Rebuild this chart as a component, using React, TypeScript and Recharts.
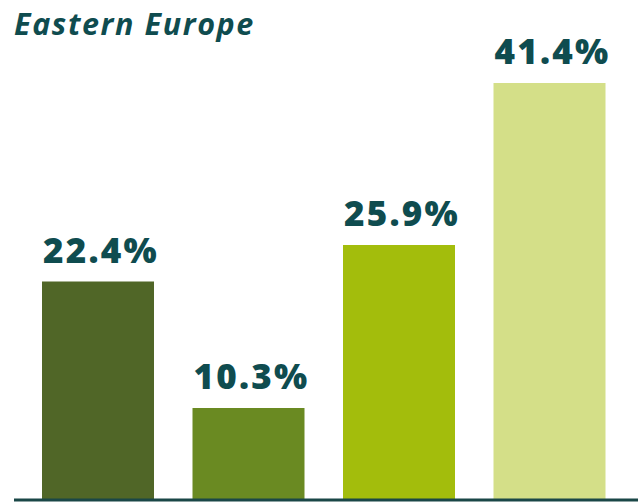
import React from "react";
import { BarChart, Bar, XAxis, YAxis, Cell, LabelList, ReferenceLine } from "recharts";

const categories = ["A", "B", "C", "D"];
const values = [22.4, 10.3, 25.9, 41.4];
const labels = ["22.4%", "10.3%", "25.9%", "41.4%"];
const colors = ["#506627", "#6a8a22", "#a3bd0c", "#d4df88"];
const title = "Eastern Europe";

const data = categories.map((c, i) => ({ name: c, value: values[i], label: labels[i] }));

const TEAL = "#0f4c4f";

const renderLabel = (props: any) => {
  const { x, y, width, index } = props;
  return (
    <text
      x={Number(x) + Number(width) / 2 + 3}
      y={Number(y) - 19}
      textAnchor="middle"
      fill={TEAL}
      fontFamily="'Open Sans', sans-serif"
      fontWeight={800}
      fontSize={35}
      letterSpacing={2.2}
    >
      {labels[index]}
    </text>
  );
};

export default function App() {
  return (
    <div style={{ position: "absolute", left: 0, top: 0, width: 638, height: 502, background: "#fff" }}>
      <BarChart
        width={638}
        height={502}
        data={data}
        margin={{ top: 20, right: 0, bottom: 2, left: 14 }}
        barCategoryGap={0}
      >
        <XAxis
          dataKey="name"
          hide
          padding={{ left: 9, right: 13 }}
        />
        <YAxis hide domain={[1.5, 47.43]} type="number" />
        <Bar dataKey="value" barSize={112} isAnimationActive={false}>
          {data.map((d, i) => (
            <Cell key={d.name} fill={colors[i]} />
          ))}
          <LabelList dataKey="label" content={renderLabel} />
        </Bar>
        <ReferenceLine y={1.5} stroke="#1a4747" strokeWidth={3} ifOverflow="visible" />
      </BarChart>
      <svg width={638} height={50} style={{ position: "absolute", left: 0, top: 0 }}>
        <text
          x={14}
          y={34.5}
          fill={TEAL}
          fontFamily="'Open Sans', sans-serif"
          fontStyle="italic"
          fontWeight={700}
          fontSize={30.5}
          letterSpacing={1.6}
        >
          {title}
        </text>
      </svg>
    </div>
  );
}
